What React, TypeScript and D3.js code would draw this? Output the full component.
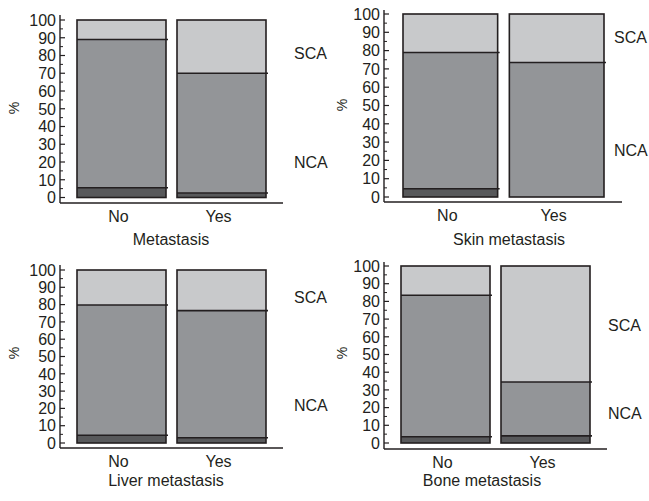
import React from "react";
import * as d3 from "d3";

// Categories on each x axis and the panel titles
const categories = ["No", "Yes"];
const panelTitles = ["Metastasis", "Skin metastasis", "Liver metastasis", "Bone metastasis"];

// Stacked shares (%) per panel, one value per category: bottom segment, NCA, SCA
const baseShare = [
  [5.5, 2.5],
  [4.5, 0],
  [4.5, 3],
  [3.5, 4],
];
const ncaShare = [
  [83.5, 67.5],
  [74.5, 73.5],
  [75.3, 73.5],
  [80, 30.5],
];
const scaShare = [
  [11, 30],
  [21, 26.5],
  [20.2, 23.5],
  [16.5, 65.5],
];

const seriesNames = ["", "NCA", "SCA"];
const yTicks = [0, 10, 20, 30, 40, 50, 60, 70, 80, 90, 100];

// Panel geometry (pixels)
const layouts = [
  { axisX: 60, yTop: 20, yZero: 197.5, baseY: 203, axisTop: 15, barL: 77, barR: 266, axisEnd: 283, labelX: 294, scaY: 53, ncaY: 162, catY: 216, titleX: 171, titleY: 239, pctX: 14, pctY: 108 },
  { axisX: 384, yTop: 14, yZero: 197, baseY: 202, axisTop: 10, barL: 403, barR: 604, axisEnd: 622, labelX: 614, scaY: 37, ncaY: 150, catY: 215, titleX: 509, titleY: 239, pctX: 342, pctY: 105 },
  { axisX: 60, yTop: 270, yZero: 443, baseY: 448, axisTop: 265, barL: 77, barR: 266, axisEnd: 283, labelX: 294, scaY: 297, ncaY: 405, catY: 461, titleX: 166, titleY: 480, pctX: 14, pctY: 353 },
  { axisX: 384, yTop: 266, yZero: 443, baseY: 449, axisTop: 262, barL: 401, barR: 590, axisEnd: 607, labelX: 608, scaY: 325, ncaY: 413, catY: 462, titleX: 482, titleY: 480, pctX: 342, pctY: 353 },
];

const fills = ["#58595b", "#939598", "#c8c9cb"];
const ink = "#231f20";
const font = "'Liberation Sans', Arial, Helvetica, sans-serif";

function Panel({ index }: { index: number }) {
  const L = layouts[index];
  const y = d3.scaleLinear().domain([0, 100]).range([L.yZero, L.yTop]);
  const x = d3.scaleBand<string>().domain(categories).range([L.barL, L.barR]).paddingInner(0.11).paddingOuter(0);

  const rows = categories.map((c, i) => ({
    cat: c,
    s0: baseShare[index][i],
    s1: ncaShare[index][i],
    s2: scaShare[index][i],
  }));
  const stack = d3.stack<any>().keys(["s0", "s1", "s2"]);
  const layers = stack(rows);

  const minor = d3.range(5, 100, 10);

  return (
    <g>
      {/* stacked bars */}
      {layers.map((layer, li) =>
        layer.map((d, ci) => {
          const x0 = x(categories[ci])!;
          const h = y(d[0]) - y(d[1]);
          if (h <= 0) return null;
          return (
            <rect
              key={`${li}-${ci}`}
              x={x0}
              y={y(d[1])}
              width={x.bandwidth()}
              height={h}
              fill={fills[li]}
              stroke="none"
            />
          );
        })
      )}
      {/* segment borders */}
      {categories.map((c, ci) => {
        const x0 = x(c)!;
        const w = x.bandwidth();
        const cuts = layers.slice(0, 2).map((layer) => layer[ci][1]).filter((v) => v > 0 && v < 100);
        return (
          <g key={c}>
            <rect x={x0} y={y(100)} width={w} height={y(0) - y(100)} fill="none" stroke={ink} strokeWidth={1.6} />
            {cuts.map((v, k) => (
              <line key={k} x1={x0} x2={x0 + w + 2} y1={y(v)} y2={y(v)} stroke={ink} strokeWidth={1.6} />
            ))}
          </g>
        );
      })}
      {/* axes */}
      <line x1={L.axisX} x2={L.axisX} y1={L.axisTop} y2={L.baseY} stroke={ink} strokeWidth={1.4} />
      <line x1={L.axisX} x2={L.axisEnd} y1={L.baseY} y2={L.baseY} stroke={ink} strokeWidth={1.4} />
      {yTicks.map((t) => (
        <g key={t}>
          <line x1={L.axisX} x2={L.axisX + 5} y1={y(t)} y2={y(t)} stroke={ink} strokeWidth={1.2} />
          <text x={L.axisX - 4} y={y(t)} dy="0.36em" textAnchor="end" fontSize={16} fontFamily={font} fill={ink}>
            {t}
          </text>
        </g>
      ))}
      {minor.map((t) => (
        <line key={t} x1={L.axisX} x2={L.axisX + 3} y1={y(t)} y2={y(t)} stroke={ink} strokeWidth={1} />
      ))}
      {categories.map((c) => (
        <text
          key={c}
          x={x(c)! + x.bandwidth() / 2 - 3}
          y={L.catY}
          dy="0.36em"
          textAnchor="middle"
          fontSize={16}
          fontFamily={font}
          fill={ink}
        >
          {c}
        </text>
      ))}
      <text x={L.titleX} y={L.titleY} dy="0.36em" textAnchor="middle" fontSize={16} fontFamily={font} fill={ink}>
        {panelTitles[index]}
      </text>
      <text
        transform={`translate(${L.pctX},${L.pctY}) rotate(-90)`}
        dy="0.36em"
        textAnchor="middle"
        fontSize={14}
        fontFamily={font}
        fill={ink}
      >
        %
      </text>
      <text x={L.labelX} y={L.scaY} dy="0.36em" fontSize={16} fontFamily={font} fill={ink}>
        {seriesNames[2]}
      </text>
      <text x={L.labelX} y={L.ncaY} dy="0.36em" fontSize={16} fontFamily={font} fill={ink}>
        {seriesNames[1]}
      </text>
    </g>
  );
}

export default function App() {
  return (
    <svg
      width={649}
      height={501}
      viewBox="0 0 649 501"
      style={{ position: "absolute", left: 0, top: 0, background: "#ffffff" }}
    >
      <rect width={649} height={501} fill="#ffffff" />
      {panelTitles.map((_, i) => (
        <Panel key={i} index={i} />
      ))}
    </svg>
  );
}
